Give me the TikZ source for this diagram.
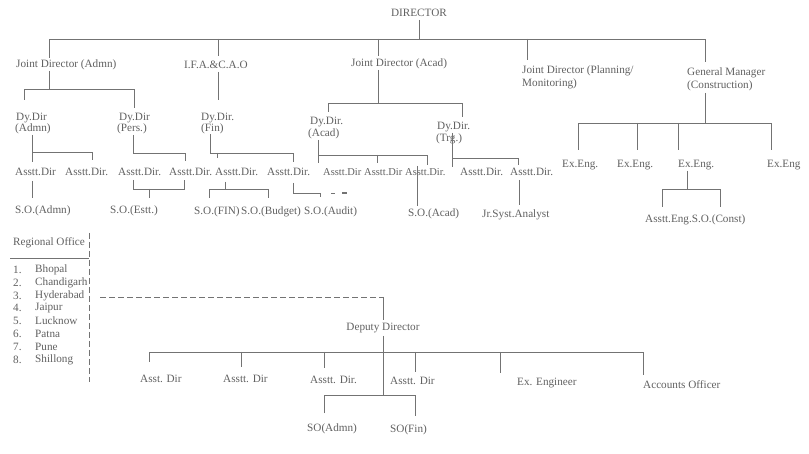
\documentclass[tikz,border=0pt]{standalone}
\usepackage{fontspec}
\setmainfont{Liberation Serif}
\definecolor{txtc}{gray}{0.38}
\definecolor{linec}{gray}{0.45}
\begin{document}
\begin{tikzpicture}[x=1pt,y=-1pt,
  ln/.style={draw=linec, line width=0.6pt},
  dln/.style={draw=linec, line width=0.6pt, dashed, dash pattern=on 6pt off 3pt},
  lbl/.style={anchor=west, inner sep=0pt, text=txtc, font=\fontsize{11.2}{12}\selectfont},
  lbls/.style={lbl, font=\fontsize{10.5}{12}\selectfont},
  lbl2/.style={anchor=north west, inner sep=0pt, align=left, text=txtc, font=\fontsize{11.2}{13}\selectfont}]
\useasboundingbox (0,0) rectangle (809,454);
\fill[white] (0,0) rectangle (809,454);

% ---------- top levels ----------
\node[lbl, anchor=center] (dir) at (419,13) {DIRECTOR};
\node[lbl] (jdadm) at (16,65) {Joint Director (Admn)};
\node[lbl] (ifa) at (184,65) {I.F.A.\&C.A.O};
\node[lbl] (jdacad) at (351,64) {Joint Director (Acad)};
\node[lbl2] (jdplan) at (522,66) {Joint Director (Planning/\\Monitoring)};
\node[lbl2] (gm) at (687,68) {General Manager\\(Construction)};

\draw[ln] (419,20) -- (419,39);
\draw[ln] (49,58) -- (49,39) -- (705,39) -- (705,62);
\draw[ln] (218,39) -- (218,56);
\draw[ln] (378,39) -- (378,56);
\draw[ln] (527,39) -- (527,60);

% ---------- Dy. Dir level ----------
\node[lbl] (dyadm) at (16,118) {Dy.Dir};
\node[lbl] (dyadm2) at (15,129) {(Admn)};
\node[lbl] (dypers) at (119,118) {Dy.Dir};
\node[lbl] (dypers2) at (117,129) {(Pers.)};
\node[lbl] (dyfin) at (201,118) {Dy.Dir.};
\node[lbl] (dyfin2) at (201,129) {(Fin)};
\node[lbl] (dyacad) at (310,122) {Dy.Dir.};
\node[lbl] (dyacad2) at (308,134) {(Acad)};
\node[lbl] (dytrg) at (437,127) {Dy.Dir.};
\node[lbl] (dytrg2) at (436,139) {(Trg.)};

\draw[ln] (49,71) -- (49,89);
\draw[ln] (24,100) -- (24,89) -- (134,89) -- (134,108);
\draw[ln] (218,72) -- (218,100);
\draw[ln] (378,70) -- (378,103);
\draw[ln] (328,112) -- (328,103) -- (462,103) -- (462,117);
\draw[ln] (705,93) -- (705,123);
\draw[ln] (578,150) -- (578,123) -- (771,123) -- (771,150);
\draw[ln] (637,123) -- (637,150);
\draw[ln] (678,123) -- (678,150);

% ---------- Asstt. Dir level ----------
\node[lbl] (ad1) at (15,172) {Asstt.Dir};
\node[lbl] (ad2) at (65,172) {Asstt.Dir.};
\node[lbl] (ad3) at (118,172) {Asstt.Dir.};
\node[lbl] (ad4) at (169,172) {Asstt.Dir.};
\node[lbl] (ad5) at (215,172) {Asstt.Dir.};
\node[lbl] (ad6) at (267,172) {Asstt.Dir.};
\node[lbls] (ad7) at (323,172) {Asstt.Dir};
\node[lbls] (ad8) at (364,172) {Asstt.Dir};
\node[lbls] (ad9) at (405,172) {Asstt.Dir.};
\node[lbl] (ad10) at (460,172) {Asstt.Dir.};
\node[lbl] (ad11) at (510,172) {Asstt.Dir.};

\node[lbl] (ee1) at (562,165) {Ex.Eng.};
\node[lbl] (ee2) at (617,165) {Ex.Eng.};
\node[lbl] (ee3) at (678,165) {Ex.Eng.};
\node[lbl] (ee4) at (767,165) {Ex.Eng};

% Admn
\draw[ln] (32,135) -- (32,162);
\draw[ln] (32,152) -- (92,152) -- (92,160);
% Pers
\draw[ln] (133,135) -- (133,153) -- (185,153) -- (185,161);
% Fin
\draw[ln] (210,134) -- (210,153) -- (293,153) -- (293,162);
\draw[ln] (217,153) -- (217,158);
% Acad
\draw[ln] (318,140) -- (318,163);
\draw[ln] (318,155) -- (427,155) -- (427,165);
\draw[ln] (377,155) -- (377,163);
% Trg
\draw[ln] (452,133) -- (452,167);
\draw[ln] (452,158) -- (518,158) -- (518,165);

% ---------- S.O. level ----------
\node[lbl] (so1) at (15,211) {S.O.(Admn)};
\node[lbl] (so2) at (110,211) {S.O.(Estt.)};
\node[lbl] (so3) at (194,212) {S.O.(FIN)};
\node[lbl] (so4) at (241,212) {S.O.(Budget)};
\node[lbl] (so5) at (304,212) {S.O.(Audit)};
\node[lbl] (so6) at (408,214) {S.O.(Acad)};
\node[lbl] (jr) at (482,215) {Jr.Syst.Analyst};
\node[lbl] (ae) at (645,220) {Asstt.Eng.S.O.(Const)};

\draw[ln] (32,181) -- (32,198);
\draw[ln] (133,180) -- (133,189) -- (184,189) -- (184,180);
\draw[ln] (149,189) -- (149,198);
\draw[ln] (225,182) -- (225,189);
\draw[ln] (209,198) -- (209,189) -- (268,189) -- (268,198);
\draw[ln] (293,183) -- (293,193) -- (320,193) -- (320,197);
\draw[ln] (331,193) -- (335,193);
\fill[linec] (342,191.8) rectangle (347,194.2);
\draw[ln] (417,166) -- (417,206);
\draw[ln] (519,180) -- (519,205);
\draw[ln] (687,171) -- (687,189);
\draw[ln] (662,207) -- (662,189) -- (720,189) -- (720,207);

% ---------- Regional offices ----------
\node[lbl] (ro) at (13,243) {Regional Office};
\draw[ln] (10,258) -- (89,258);
\draw[dln] (89,233) -- (89,382);
\foreach \i/\n in {1/Bhopal,2/Chandigarh,3/Hyderabad,4/Jaipur,5/Lucknow,6/Patna,7/Pune,8/Shillong}{
  \node[lbl] (rn\i) at (13,257+12.8*\i) {\i.};
  \node[lbl] (rc\i) at (35,257+12.8*\i) {\n};
}

% ---------- Deputy Director ----------
\node[lbl, anchor=center] (dd) at (383,328) {Deputy Director};
\draw[dln] (100,297) -- (383,297);
\draw[ln] (383,297) -- (383,320);
\draw[ln] (383,336) -- (383,395);
\draw[ln] (149,362) -- (149,352) -- (643,352) -- (643,375);
\foreach \x/\e in {241/367,324/368,415/372,500/373}{
  \draw[ln] (\x,352) -- (\x,\e);
}
\node[lbl] (da1) at (140,379) {Asst. Dir};
\node[lbl] (da2) at (223,379) {Asstt. Dir};
\node[lbl] (da3) at (310,380) {Asstt. Dir.};
\node[lbl] (da4) at (390,381) {Asstt. Dir};
\node[lbl] (dex) at (517,383) {Ex. Engineer};
\node[lbl] (dao) at (643,385) {Accounts Officer};

\draw[ln] (324,413) -- (324,395) -- (415,395) -- (415,416);
\node[lbl] (dso1) at (307,429) {SO(Admn)};
\node[lbl] (dso2) at (390,430) {SO(Fin)};
\end{tikzpicture}
\end{document}
